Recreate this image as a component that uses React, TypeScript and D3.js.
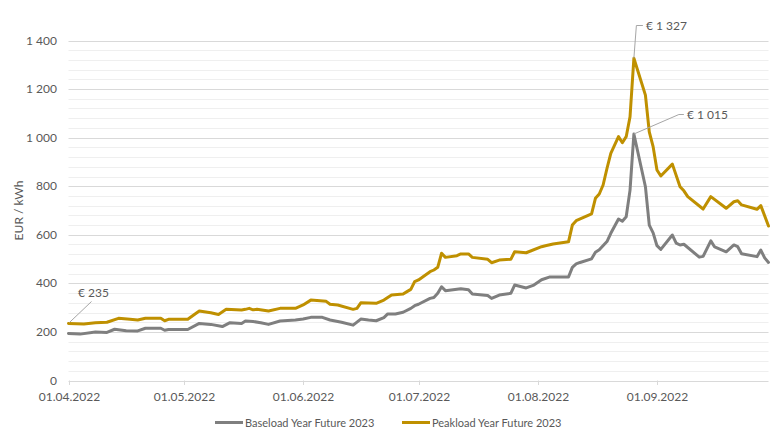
import React from "react";
import * as d3 from "d3";

const peakDates = ["2022-04-01","2022-04-05","2022-04-08","2022-04-11","2022-04-14","2022-04-17","2022-04-19","2022-04-21","2022-04-25","2022-04-26","2022-04-27","2022-05-02","2022-05-05","2022-05-08","2022-05-10","2022-05-12","2022-05-16","2022-05-17","2022-05-18","2022-05-19","2022-05-20","2022-05-23","2022-05-26","2022-05-30","2022-06-01","2022-06-03","2022-06-07","2022-06-08","2022-06-10","2022-06-14","2022-06-15","2022-06-16","2022-06-20","2022-06-22","2022-06-24","2022-06-27","2022-06-28","2022-06-29","2022-06-30","2022-07-01","2022-07-04","2022-07-05","2022-07-06","2022-07-07","2022-07-08","2022-07-11","2022-07-12","2022-07-14","2022-07-15","2022-07-19","2022-07-20","2022-07-22","2022-07-25","2022-07-26","2022-07-29","2022-08-02","2022-08-03","2022-08-05","2022-08-09","2022-08-10","2022-08-11","2022-08-15","2022-08-16","2022-08-17","2022-08-18","2022-08-19","2022-08-20","2022-08-22","2022-08-23","2022-08-24","2022-08-25","2022-08-26","2022-08-29","2022-08-30","2022-08-31","2022-09-01","2022-09-02","2022-09-05","2022-09-07","2022-09-08","2022-09-09","2022-09-13","2022-09-15","2022-09-19","2022-09-21","2022-09-22","2022-09-23","2022-09-27","2022-09-28","2022-09-30"];
const peakValues = [235,233,238,240,256,252,249,256,256,246,252,252,286,279,272,293,290,293,297,291,293,286,297,297,311,331,326,314,311,293,297,320,318,331,352,356,366,375,407,414,448,455,466,524,507,514,521,521,507,499,485,496,499,530,526,551,555,562,571,640,658,686,750,768,805,873,935,1004,979,1004,1086,1327,1175,1024,963,867,842,891,798,781,757,706,757,709,736,740,723,705,720,636];

const baseDates = ["2022-04-01","2022-04-04","2022-04-08","2022-04-11","2022-04-13","2022-04-16","2022-04-19","2022-04-21","2022-04-25","2022-04-26","2022-04-27","2022-05-02","2022-05-05","2022-05-08","2022-05-11","2022-05-13","2022-05-16","2022-05-17","2022-05-19","2022-05-21","2022-05-23","2022-05-26","2022-05-28","2022-05-30","2022-06-01","2022-06-03","2022-06-06","2022-06-08","2022-06-11","2022-06-14","2022-06-16","2022-06-18","2022-06-20","2022-06-22","2022-06-23","2022-06-25","2022-06-27","2022-06-29","2022-06-30","2022-07-01","2022-07-04","2022-07-05","2022-07-06","2022-07-07","2022-07-08","2022-07-12","2022-07-14","2022-07-15","2022-07-19","2022-07-20","2022-07-22","2022-07-25","2022-07-26","2022-07-29","2022-07-31","2022-08-02","2022-08-04","2022-08-09","2022-08-10","2022-08-11","2022-08-12","2022-08-15","2022-08-16","2022-08-17","2022-08-19","2022-08-20","2022-08-22","2022-08-23","2022-08-24","2022-08-25","2022-08-26","2022-08-29","2022-08-30","2022-08-31","2022-09-01","2022-09-02","2022-09-05","2022-09-06","2022-09-07","2022-09-08","2022-09-12","2022-09-13","2022-09-15","2022-09-16","2022-09-19","2022-09-21","2022-09-22","2022-09-23","2022-09-27","2022-09-28","2022-09-29","2022-09-30"];
const baseValues = [194,191,200,198,211,205,204,215,215,207,210,210,235,231,222,238,235,245,243,238,231,245,247,249,253,260,260,249,240,228,253,249,246,259,274,274,281,297,308,314,338,342,359,386,370,378,374,356,350,338,352,359,393,381,393,415,426,426,466,480,486,501,528,538,572,606,665,656,674,784,1015,798,640,608,555,540,599,566,558,561,508,511,575,550,530,558,551,522,510,537,505,486];

const yTicks = [0, 200, 400, 600, 800, 1000, 1200, 1400];
const xTickDates = ["2022-04-01","2022-05-01","2022-06-01","2022-07-01","2022-08-01","2022-09-01"];
const seriesNames = ["Baseload Year Future 2023", "Peakload Year Future 2023"];
const seriesColors = ["#7f7f7f", "#bf9000"];

const parse = (s: string) => {
  const [y, m, d] = s.split("-").map(Number);
  return new Date(Date.UTC(y, m - 1, d));
};

const fmtNum = (v: number) => {
  const s = String(Math.round(v));
  return s.replace(/\B(?=(\d{3})+(?!\d))/g, " ");
};
const fmtDate = (d: Date) => d3.utcFormat("%d.%m.%Y")(d);

export default function App() {
  const W = 776, H = 439;
  const x = d3.scaleUtc().domain([parse("2022-04-01"), parse("2022-09-30")]).range([68.5, 768.5]);
  const y = d3.scaleLinear().domain([0, 1400]).range([380.5, 40.5]);
  const minor = d3.range(0, 1401, 40).filter((v) => v % 200 !== 0);

  const base = baseDates.map((d, i) => ({ d: parse(d), v: baseValues[i] }));
  const peak = peakDates.map((d, i) => ({ d: parse(d), v: peakValues[i] }));
  const line = d3.line<{ d: Date; v: number }>().x((p) => x(p.d)).y((p) => y(p.v));

  const font = "Lato, 'Open Sans', sans-serif";
  const tc = "#595959";

  const peakMaxI = d3.maxIndex(peakValues);
  const baseMaxI = d3.maxIndex(baseValues);
  const pMax = { x: x(parse(peakDates[peakMaxI])), y: y(peakValues[peakMaxI]) };
  const bMax = { x: x(parse(baseDates[baseMaxI])), y: y(baseValues[baseMaxI]) };
  const pStart = { x: x(parse(peakDates[0])), y: y(peakValues[0]) };

  return (
    <div style={{ position: "absolute", left: 0, top: 0 }}>
      <svg width={W} height={H} style={{ display: "block", background: "#fff" }} fontFamily={font}>
        {minor.map((v) => (
          <line key={"m" + v} x1={68.5} x2={768.5} y1={Math.round(y(v)) + 0.5} y2={Math.round(y(v)) + 0.5} stroke="#efefef" strokeWidth={1} />
        ))}
        {yTicks.map((v) => (
          <line key={"g" + v} x1={68.5} x2={768.5} y1={Math.round(y(v)) + 0.5} y2={Math.round(y(v)) + 0.5} stroke="#d9d9d9" strokeWidth={1} />
        ))}
        {yTicks.map((v) => (
          <text key={"yl" + v} x={57} y={y(v) + 4} textAnchor="end" fontSize={12} fill={tc}>{fmtNum(v)}</text>
        ))}
        <text transform={`translate(23,${(y(0) + y(1400)) / 2 + 0}) rotate(-90)`} textAnchor="middle" fontSize={12} fill={tc}>EUR / kWh</text>
        {xTickDates.map((s) => {
          const xx = Math.round(x(parse(s))) + 0.5;
          return (
            <g key={s}>
              <line x1={xx} x2={xx} y1={380.5} y2={385} stroke="#d9d9d9" />
              <text x={xx} y={401} textAnchor="middle" fontSize={12} fill={tc}>{fmtDate(parse(s))}</text>
            </g>
          );
        })}
        <path d={line(base) || ""} fill="none" stroke={seriesColors[0]} strokeWidth={3} strokeLinejoin="round" strokeLinecap="round" />
        <path d={line(peak) || ""} fill="none" stroke={seriesColors[1]} strokeWidth={3} strokeLinejoin="round" strokeLinecap="round" />

        {/* annotations */}
        <line x1={pStart.x + 1} y1={pStart.y - 1} x2={91.5} y2={301.5} stroke="#a6a6a6" strokeWidth={1} />
        <text x={78} y={297} fontSize={12} fill={tc}>€ {fmtNum(peakValues[0])}</text>
        <polyline points={`${pMax.x},${pMax.y} ${pMax.x + 2.5},25.5 ${pMax.x + 9},25.5`} fill="none" stroke="#a6a6a6" strokeWidth={1} />
        <text x={646} y={29.5} fontSize={12} fill={tc}>€ {fmtNum(peakValues[peakMaxI])}</text>
        <polyline points={`${bMax.x},${bMax.y} ${bMax.x + 45},114.5 ${bMax.x + 50},114.5`} fill="none" stroke="#a6a6a6" strokeWidth={1} />
        <text x={687} y={118.5} fontSize={12} fill={tc}>€ {fmtNum(baseValues[baseMaxI])}</text>

        {/* legend */}
        {seriesNames.map((n, i) => {
          const lx = i === 0 ? 215 : 402;
          return (
            <g key={n}>
              <line x1={lx} x2={lx + 28} y1={422.5} y2={422.5} stroke={seriesColors[i]} strokeWidth={3} />
              <text x={lx + 30} y={426.5} fontSize={11} fill={tc}>{n}</text>
            </g>
          );
        })}
      </svg>
    </div>
  );
}
